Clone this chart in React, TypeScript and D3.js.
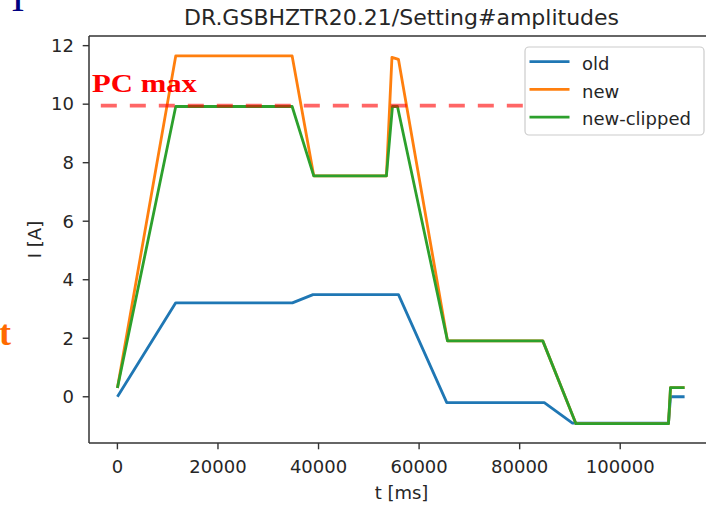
import React from 'react';
import * as d3 from 'd3';

// time axis in ms, current in A
const oldT = [0, 11600, 34800, 38900, 55900, 65500, 84900, 90500, 109600, 110000, 112800];
const oldV = [0, 3.21, 3.21, 3.49, 3.49, -0.2, -0.2, -0.9, -0.9, 0, 0];

const newT = [0, 11600, 34750, 39050, 53500, 54600, 55900, 65650, 84600, 91200, 109600, 110000, 112800];
const newV = [0.3, 11.65, 11.65, 7.55, 7.55, 11.6, 11.53, 1.91, 1.91, -0.92, -0.92, 0.31, 0.31];

const clipT = [0, 11600, 34750, 39050, 53500, 54700, 55700, 65650, 84600, 91200, 109600, 110000, 112800];
const clipV = [0.3, 9.92, 9.92, 7.55, 7.55, 9.92, 9.92, 1.91, 1.91, -0.92, -0.92, 0.31, 0.31];

const pcMax = 9.95;
const pcLineStart = -3300;

const xTicks = [0, 20000, 40000, 60000, 80000, 100000];
const yTicks = [0, 2, 4, 6, 8, 10, 12];

const seriesNames = ['old', 'new', 'new-clipped'];
const seriesColors = ['#1f77b4', '#ff7f0e', '#2ca02c'];

const W = 706;
const H = 505;
const left = 89;
const right = 714;
const top = 36;
const bottom = 443;
const font = 'DejaVu Sans, sans-serif';
const serif = 'Liberation Serif, Times New Roman, serif';

export default function App() {
  const x = d3.scaleLinear().domain([-5650, 118650]).range([left, right]);
  const y = d3.scaleLinear().domain([-1.58, 12.33]).range([bottom, top]);

  const line = d3
    .line<[number, number]>()
    .x((d) => x(d[0]))
    .y((d) => y(d[1]));

  const series = [
    d3.zip(oldT, oldV) as [number, number][],
    d3.zip(newT, newV) as [number, number][],
    d3.zip(clipT, clipV) as [number, number][],
  ];

  const legendX = 525;
  const legendY = 47;
  const rowGap = 27.7;

  return (
    <svg
      width={W}
      height={H}
      style={{ position: 'fixed', left: 0, top: 0, background: '#fff' }}
      fontFamily={font}
    >
      <defs>
        <clipPath id="plot">
          <rect x={left} y={top} width={right - left} height={bottom - top} />
        </clipPath>
      </defs>

      {/* title */}
      <text x={(left + right) / 2} y={25} textAnchor="middle" fontSize={22} fill="#262626">
        DR.GSBHZTR20.21/Setting#amplitudes
      </text>

      {/* lines */}
      <g clipPath="url(#plot)">
        {series.map((s, i) => (
          <path
            key={seriesNames[i]}
            d={line(s) || ''}
            fill="none"
            stroke={seriesColors[i]}
            strokeWidth={2.8}
            strokeLinejoin="round"
          />
        ))}
        <line
          x1={x(pcLineStart)}
          x2={right}
          y1={y(pcMax)}
          y2={y(pcMax)}
          stroke="#ff0000"
          strokeOpacity={0.6}
          strokeWidth={3.6}
          strokeDasharray="16,13"
        />
      </g>

      {/* spines */}
      <g stroke="#333" strokeWidth={1.5} fill="none">
        <line x1={left} x2={left} y1={top} y2={bottom} />
        <line x1={left} x2={right} y1={top} y2={top} />
        <line x1={left} x2={right} y1={bottom} y2={bottom} />
        <line x1={right} x2={right} y1={top} y2={bottom} />
      </g>

      {/* x axis */}
      {xTicks.map((t) => (
        <g key={t} transform={`translate(${x(t)},0)`}>
          <line y1={bottom} y2={bottom + 6.3} stroke="#333" strokeWidth={1.4} />
          <text y={473} textAnchor="middle" fontSize={18} fill="#262626">
            {t}
          </text>
        </g>
      ))}
      <text x={(left + right) / 2} y={499} textAnchor="middle" fontSize={18} fill="#262626">
        t [ms]
      </text>

      {/* y axis */}
      {yTicks.map((t) => (
        <g key={t} transform={`translate(0,${y(t)})`}>
          <line x1={left - 6.3} x2={left} stroke="#333" strokeWidth={1.4} />
          <text x={left - 15} dy="0.35em" textAnchor="end" fontSize={18} fill="#262626">
            {t}
          </text>
        </g>
      ))}
      <text
        transform={`translate(41,${(top + bottom) / 2}) rotate(-90)`}
        textAnchor="middle"
        fontSize={18}
        fill="#262626"
      >
        I [A]
      </text>

      {/* legend */}
      <rect
        x={legendX}
        y={legendY}
        width={179}
        height={88}
        rx={4}
        fill="#fff"
        stroke="#ccc"
        strokeWidth={1.2}
      />
      {seriesNames.map((name, i) => (
        <g key={name}>
          <line
            x1={529.5}
            x2={569.5}
            y1={61.7 + i * rowGap}
            y2={61.7 + i * rowGap}
            stroke={seriesColors[i]}
            strokeWidth={2.8}
          />
          <text x={582} y={70 + i * rowGap} fontSize={18} fill="#262626">
            {name}
          </text>
        </g>
      ))}

      {/* overlay annotations from the slide */}
      <text x={92} y={92} fontFamily={serif} fontWeight="bold" fontSize={26} fill="#ff0000" textLength={105} lengthAdjust="spacingAndGlyphs">
        PC max
      </text>
      <text x={-1} y={345} fontFamily={serif} fontWeight="bold" fontSize={36} fill="#ff6a00">
        t
      </text>
      <text x={18} y={11} textAnchor="middle" fontFamily={serif} fontSize={40} fill="#000080">
        I
      </text>
    </svg>
  );
}
